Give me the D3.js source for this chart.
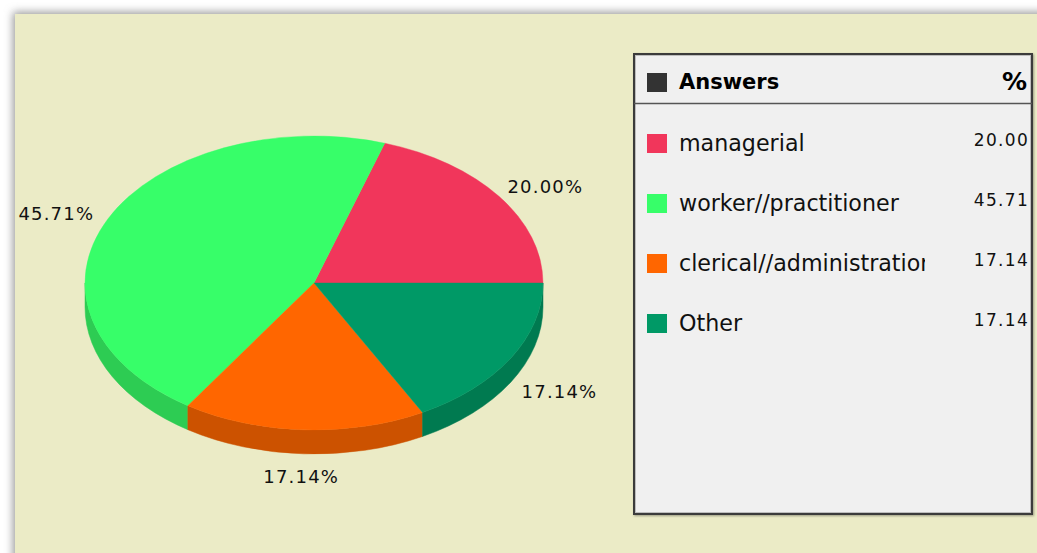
<!DOCTYPE html>
<html>
<head>
<meta charset="utf-8">
<script src="https://cdn.jsdelivr.net/npm/d3@7"></script>
<style>
  body { margin: 0; background: #fff; }
  svg { display: block; font-family: "DejaVu Sans", Verdana, sans-serif; }
</style>
</head>
<body>
<svg id="chart" width="1037" height="553"></svg>
<script>
// data
const categories = ["managerial", "worker//practitioner", "clerical//administration", "Other"];
const percents = [20.00, 45.71, 17.14, 17.14];
const topColors = ["#f1365b", "#37fe69", "#ff6600", "#009966"];
const sideColors = ["#c12b49", "#2dcc53", "#cc5200", "#007a50"];
const legendTitle = "Answers";
const legendValueTitle = "%";

const svg = d3.select("#chart");

// background panel with soft shadow
const defs = svg.append("defs");
defs.append("filter").attr("id", "blur")
  .attr("x", "-10%").attr("y", "-10%").attr("width", "120%").attr("height", "120%")
  .append("feGaussianBlur").attr("stdDeviation", 4);
defs.append("filter").attr("id", "legshadow")
  .append("feDropShadow").attr("dx", 1).attr("dy", 1).attr("stdDeviation", 1)
  .attr("flood-color", "#000").attr("flood-opacity", 0.35);

svg.append("rect")
  .attr("x", 13).attr("y", 12).attr("width", 1060).attr("height", 580)
  .attr("fill", "#9a9a9a").attr("filter", "url(#blur)");
svg.append("rect")
  .attr("x", 15).attr("y", 14).attr("width", 1060).attr("height", 580)
  .attr("fill", "#ebebc6");

// 3D pie geometry
const cx = 314, cy = 283, rx = 229, ry = 147, depth = 24;

// angles counter-clockwise from 3 o'clock (d3 angle a -> math angle pi/2 - a)
const pie = d3.pie().sort(null).value(d => d)
  .startAngle(Math.PI / 2).endAngle(Math.PI / 2 - 2 * Math.PI);
const arcs = pie(percents).map((d, i) => {
  const t0 = Math.PI / 2 - d.startAngle;
  const t1 = Math.PI / 2 - d.endAngle;
  return { ...d, i, t0, t1 };
});

const px = t => cx + rx * Math.cos(t);
const py = t => cy - ry * Math.sin(t);

// sides (front half only)
const gSide = svg.append("g");
arcs.forEach(a => {
  const s0 = Math.max(a.t0, Math.PI), s1 = Math.min(a.t1, 2 * Math.PI);
  if (s1 <= s0) return;
  const d = `M${px(s0)},${py(s0)}` +
    ` A${rx},${ry} 0 0 0 ${px(s1)},${py(s1)}` +
    ` L${px(s1)},${py(s1) + depth}` +
    ` A${rx},${ry} 0 0 1 ${px(s0)},${py(s0) + depth} Z`;
  gSide.append("path").attr("d", d)
    .attr("fill", sideColors[a.i])
    .attr("stroke", sideColors[a.i]).attr("stroke-width", 0.5);
});

// tops
const arc = d3.arc().innerRadius(0).outerRadius(rx);
svg.append("g")
  .attr("transform", `translate(${cx},${cy}) scale(1,${ry / rx})`)
  .selectAll("path")
  .data(arcs)
  .join("path")
  .attr("d", arc)
  .attr("fill", d => topColors[d.i])
  .attr("stroke", d => topColors[d.i]).attr("stroke-width", 0.5);

// slice labels
const lrx = 286, lry = 175, lcy = cy + 7, ldrop = 12;
svg.append("g").selectAll("text")
  .data(arcs)
  .join("text")
  .attr("x", d => cx + lrx * Math.cos((d.t0 + d.t1) / 2))
  .attr("y", d => {
    const m = (d.t0 + d.t1) / 2;
    return lcy - lry * Math.sin(m) + (Math.sin(m) < 0 ? ldrop : 0);
  })
  .attr("text-anchor", "middle")
  .attr("dy", "0.35em")
  .attr("font-size", 18)
  .attr("letter-spacing", 1.2)
  .attr("fill", "#111")
  .text(d => d.data.toFixed(2) + "%");

// legend
const lx = 634, ly = 54, lw = 398, lh = 460;
const leg = svg.append("g");
leg.append("rect")
  .attr("x", lx).attr("y", ly).attr("width", lw).attr("height", lh)
  .attr("fill", "#f0f0f0").attr("stroke", "#3a3a3a").attr("stroke-width", 2)
  .attr("filter", "url(#legshadow)");
leg.append("rect")
  .attr("x", lx + 1.5).attr("y", ly + 1.5).attr("width", lw - 3).attr("height", lh - 3)
  .attr("fill", "none").attr("stroke", "#bdbdbd").attr("stroke-width", 1);

leg.append("line")
  .attr("x1", lx).attr("x2", lx + lw).attr("y1", 103.5).attr("y2", 103.5)
  .attr("stroke", "#555").attr("stroke-width", 1.5);

leg.append("rect")
  .attr("x", 647).attr("y", 73).attr("width", 20).attr("height", 19)
  .attr("fill", "#333");
leg.append("text")
  .attr("x", 679).attr("y", 89)
  .attr("font-size", 21).attr("font-weight", "bold").attr("fill", "#000")
  .text(legendTitle);
leg.append("text")
  .attr("x", 1027).attr("y", 90).attr("text-anchor", "end")
  .attr("font-size", 25).attr("font-weight", "bold").attr("fill", "#000")
  .text(legendValueTitle);

defs.append("clipPath").attr("id", "nameclip")
  .append("rect").attr("x", 670).attr("y", ly).attr("width", 255).attr("height", lh);

const rowY = d3.scalePoint().domain(categories).range([143, 323]);
const rows = leg.selectAll("g.row")
  .data(categories)
  .join("g").attr("class", "row");
rows.append("rect")
  .attr("x", 647).attr("y", d => rowY(d) - 9)
  .attr("width", 20).attr("height", 19)
  .attr("fill", (d, i) => topColors[i]);
rows.append("text")
  .attr("x", 679).attr("y", d => rowY(d) + 8)
  .attr("font-size", 22.2).attr("fill", "#111")
  .attr("clip-path", "url(#nameclip)")
  .text(d => d);
rows.append("text")
  .attr("x", 1029).attr("y", d => rowY(d) + 3)
  .attr("text-anchor", "end")
  .attr("font-size", 17).attr("letter-spacing", 1.3)
  .attr("fill", "#111")
  .text((d, i) => percents[i].toFixed(2));
</script>
</body>
</html>
